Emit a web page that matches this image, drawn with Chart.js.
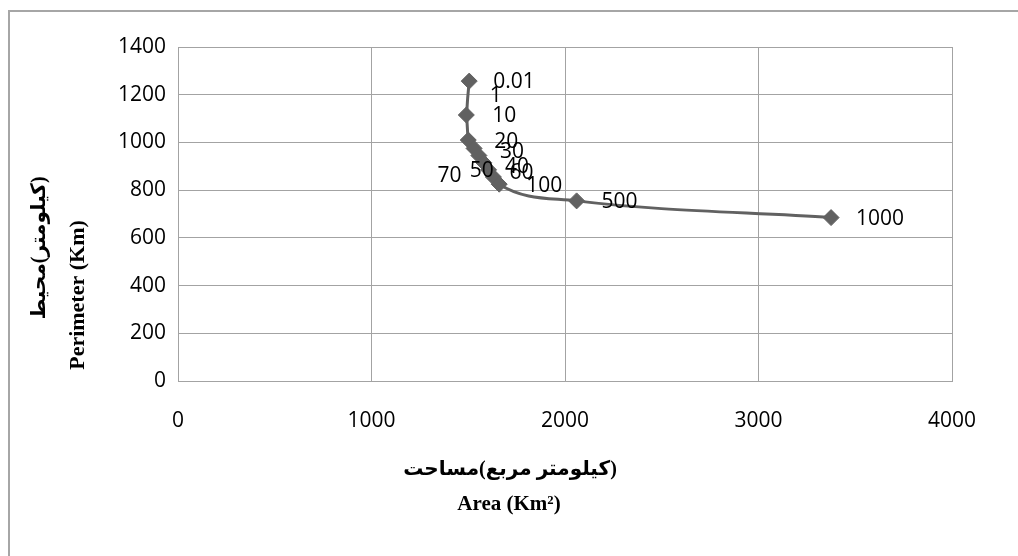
<!DOCTYPE html>
<html>
<head>
<meta charset="utf-8">
<script src="https://cdn.jsdelivr.net/npm/chart.js@4.4.1/dist/chart.umd.min.js"></script>
<style>
  html, body { margin: 0; padding: 0; background: #ffffff; }
  #wrap { width: 1018px; height: 556px; position: relative; }
</style>
</head>
<body>
<div id="wrap"><canvas id="c" width="1018" height="556"></canvas></div>
<script>
// ---- data ----
const pointLabels = ['0.01', '1', '10', '20', '30', '40', '50', '60', '70', '100', '500', '1000'];
const areaKm2 = [1505, 1497, 1490, 1500, 1530, 1555, 1580, 1605, 1630, 1660, 2060, 3375];
const perimeterKm = [1257, 1186, 1115, 1010, 975, 945, 915, 885, 855, 825, 755, 685];
const xTickValues = [0, 1000, 2000, 3000, 4000];
const yTickValues = [0, 200, 400, 600, 800, 1000, 1200, 1400];
// LRM marks keep the word order of the reference
const xTitleLines = ['مساحت\u200E(\u200Eکیلومتر مربع\u200E)', 'Area (Km\u00B2)'];
const yTitleLines = ['محیط\u200E(\u200Eکیلومتر\u200E)', 'Perimeter (Km)'];

// ---- styles (label offsets in px, relative to the point) ----
const labelOffsets = [[24, 1], [22, -2], [26, 1], [26, 2], [26, 4], [26, 11], [-14, 8], [21, 3], [-56, -1], [27, 2], [25, 1], [25, 1]];
const hiddenMarker = ['1'];

const LINE = '#616161';
const GRID = '#a3a3a3';
const FONT = "'Open Sans', 'Liberation Sans', sans-serif";

const bgPlugin = {
  id: 'bg',
  beforeDraw(chart) {
    const ctx = chart.ctx;
    ctx.save();
    ctx.fillStyle = '#ffffff';
    ctx.fillRect(0, 0, chart.width, chart.height);
    ctx.strokeStyle = '#a6a6a6';
    ctx.lineWidth = 2;
    ctx.strokeRect(9, 11, chart.width + 20, chart.height + 20);
    ctx.restore();
  }
};

const labelPlugin = {
  id: 'pointLabels',
  afterDatasetsDraw(chart) {
    const ctx = chart.ctx;
    const meta = chart.getDatasetMeta(0);
    ctx.save();
    ctx.font = '21px ' + FONT;
    ctx.fillStyle = '#000000';
    ctx.textAlign = 'left';
    ctx.textBaseline = 'middle';
    meta.data.forEach((el, i) => {
      const off = labelOffsets[i] || [25, 0];
      ctx.fillText(pointLabels[i], el.x + off[0], el.y + off[1]);
    });
    ctx.restore();
  }
};

const titlePlugin = {
  id: 'axisTitles',
  afterDraw(chart) {
    const ctx = chart.ctx;
    const a = chart.chartArea;
    ctx.save();
    ctx.fillStyle = '#000000';
    ctx.textAlign = 'center';
    ctx.textBaseline = 'middle';
    ctx.direction = 'ltr';
    // x title
    ctx.font = "bold 20px 'Liberation Serif', 'DejaVu Sans', serif";
    ctx.fillText(xTitleLines[0], a.left + 332, a.bottom + 89);
    ctx.font = "bold 21px 'Liberation Serif', serif";
    ctx.fillText(xTitleLines[1], a.left + 331, a.bottom + 124);
    // y title
    ctx.save();
    ctx.translate(40, 248);
    ctx.rotate(-Math.PI / 2);
    ctx.font = "bold 20px 'Liberation Serif', 'DejaVu Sans', serif";
    ctx.fillText(yTitleLines[0], 0, 0);
    ctx.restore();
    ctx.save();
    ctx.translate(78, 295);
    ctx.rotate(-Math.PI / 2);
    ctx.font = "bold 22px 'Liberation Serif', serif";
    ctx.fillText(yTitleLines[1], 0, 0);
    ctx.restore();
    ctx.restore();
  }
};

const points = areaKm2.map((x, i) => ({ x: x, y: perimeterKm[i] }));

new Chart(document.getElementById('c'), {
  type: 'scatter',
  data: {
    datasets: [{
      data: points,
      showLine: true,
      borderColor: LINE,
      borderWidth: 3,
      backgroundColor: LINE,
      pointStyle: 'rectRot',
      pointRadius: pointLabels.map(l => hiddenMarker.includes(l) ? 0 : 8),
      pointBorderWidth: 1,
      pointBorderColor: LINE,
      pointBackgroundColor: LINE,
      tension: 0.25,
      cubicInterpolationMode: 'monotone'
    }]
  },
  options: {
    responsive: false,
    animation: false,
    devicePixelRatio: 1,
    layout: { padding: { top: 47, right: 66, left: 0, bottom: 0 } },
    plugins: { legend: { display: false }, tooltip: { enabled: false } },
    scales: {
      x: {
        type: 'linear',
        min: xTickValues[0],
        max: xTickValues[xTickValues.length - 1],
        afterBuildTicks(scale) { scale.ticks = xTickValues.map(v => ({ value: v })); },
        afterFit(scale) { scale.height = 175; },
        grid: { color: GRID, lineWidth: 1, drawTicks: false },
        border: { color: GRID, width: 1 },
        ticks: { padding: 27, color: '#000000', font: { family: FONT, size: 21 }, callback: v => String(v) }
      },
      y: {
        type: 'linear',
        min: yTickValues[0],
        max: yTickValues[yTickValues.length - 1],
        afterBuildTicks(scale) { scale.ticks = yTickValues.map(v => ({ value: v })); },
        afterFit(scale) { scale.width = 178; },
        grid: { color: GRID, lineWidth: 1, drawTicks: false },
        border: { color: GRID, width: 1 },
        ticks: { padding: 12, color: '#000000', font: { family: FONT, size: 21 }, callback: v => String(v) }
      }
    }
  },
  plugins: [bgPlugin, labelPlugin, titlePlugin]
});
</script>
</body>
</html>
